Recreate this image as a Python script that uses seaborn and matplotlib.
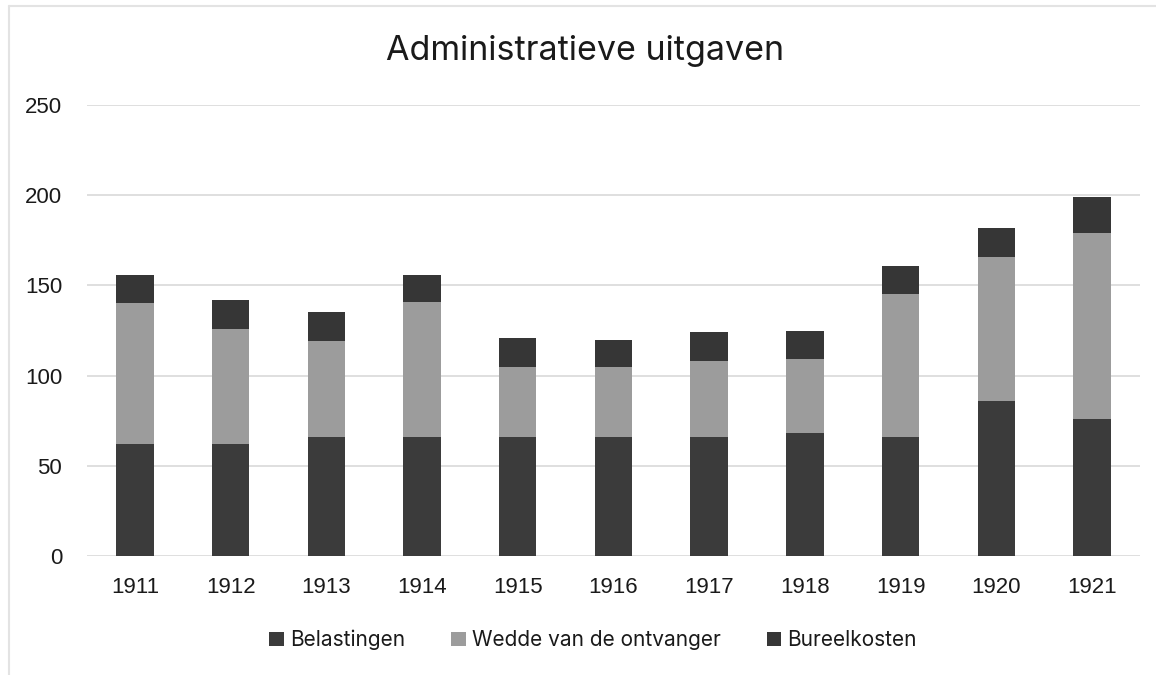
import matplotlib
matplotlib.use("Agg")
import matplotlib.pyplot as plt
from matplotlib.patches import Patch
from matplotlib.lines import Line2D
import pandas as pd
import seaborn as sns

years = ["1911", "1912", "1913", "1914", "1915", "1916", "1917", "1918", "1919", "1920", "1921"]
belastingen = [62, 62, 66, 66, 66, 66, 66, 68, 66, 86, 76]
wedde = [78, 64, 53, 75, 39, 39, 42, 41, 79, 80, 103]
bureelkosten = [16, 16, 16, 15, 16, 15, 16, 16, 16, 16, 20]

series = ["Belastingen", "Wedde van de ontvanger", "Bureelkosten"]
colors = ["#3b3b3b", "#9c9c9c", "#363636"]

df = pd.DataFrame({"year": years, "bel": belastingen, "wed": wedde, "bur": bureelkosten})
df["lvl1"] = df["bel"]
df["lvl2"] = df["bel"] + df["wed"]
df["lvl3"] = df["lvl2"] + df["bur"]

sns.set_style("white")
plt.rcParams["font.family"] = ["Liberation Sans", "DejaVu Sans"]

fig = plt.figure(figsize=(11.56, 6.75), dpi=100)
ax = fig.add_axes([0.0753, 0.1763, 0.9107, 0.6681])

# stacked bars: draw totals first, then cover from the bottom up
for col, c in zip(["lvl3", "lvl2", "lvl1"], [colors[2], colors[1], colors[0]]):
    sns.barplot(data=df, x="year", y=col, color=c, saturation=1, width=0.39, ax=ax,
                order=years, linewidth=0, edgecolor="none")

ax.set_ylim(0, 250)
ax.set_xlim(-0.5, len(years) - 0.5)
ax.set_yticks([0, 50, 100, 150, 200, 250])
ax.yaxis.grid(True, color="#d9d9d9", linewidth=1.2)
ax.set_axisbelow(True)
for s in ax.spines.values():
    s.set_visible(False)
ax.set_xlabel("")
ax.set_ylabel("")
ax.tick_params(axis="both", length=0, labelsize=16, colors="#1a1a1a")
ax.tick_params(axis="x", pad=15)
ax.tick_params(axis="y", pad=18)

fig.text(0.506, 0.924, "Administratieve uitgaven", ha="center", va="center",
         fontsize=24.5, family=["Inter", "DejaVu Sans"], color="#1a1a1a")

handles = [Patch(facecolor=c, edgecolor="none", label=s) for s, c in zip(series, colors)]
fig.legend(handles=handles, loc="center", bbox_to_anchor=(0.513, 0.052), ncol=3, frameon=False,
           prop={"family": ["Inter", "DejaVu Sans"], "size": 15}, handlelength=0.7, handleheight=0.7,
           handletextpad=0.3, columnspacing=2.2, labelcolor="#1a1a1a")

# faint border of the scanned chart area
fig.add_artist(Line2D([0.008, 0.008], [0.0, 0.991], transform=fig.transFigure, color="#e3e3e3", lw=1.5))
fig.add_artist(Line2D([0.008, 1.0], [0.991, 0.991], transform=fig.transFigure, color="#e3e3e3", lw=1.5))

fig.savefig("out.png", dpi=100, facecolor="white")
